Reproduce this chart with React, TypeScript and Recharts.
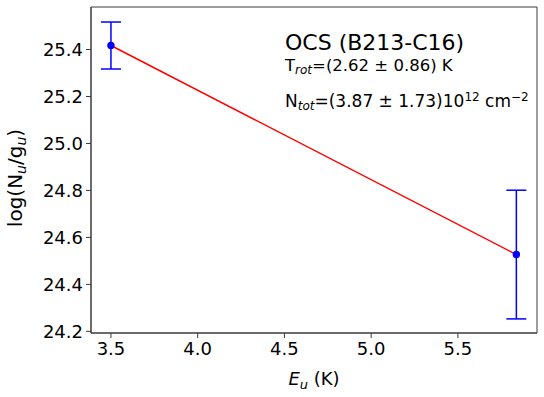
import { ComposedChart, Scatter, XAxis, YAxis, ErrorBar, ReferenceArea, Customized } from 'recharts';

// upper-level energies (K) and log column densities
const energies = [3.5, 5.837];
const logNg = [25.417, 24.527];
const logNgErr = [0.1, 0.274];

const xTicks = [3.5, 4.0, 4.5, 5.0, 5.5];
const yTicks = [24.2, 24.4, 24.6, 24.8, 25.0, 25.2, 25.4];

const xDomain = [3.385, 5.956];
const yDomain = [24.193, 25.581];

const FONT = '"DejaVu Sans", sans-serif';
const AXIS = '#3a3a3a';

const points = energies.map((e, i) => ({ x: e, y: logNg[i], err: logNgErr[i] }));
const fitLine = energies.map((e, i) => ({ x: e, y: logNg[i] }));

const dot = (props: any) => <circle cx={props.cx} cy={props.cy} r={3.7} fill="#0000ff" />;
const noDot = () => <g />;

function Annotations() {
  return (
    <g fontFamily={FONT} fill="#000">
      <text x={285} y={50} fontSize={22}>OCS (B213-C16)</text>
      <text x={285} y={71} fontSize={16.5}>
        T<tspan fontSize={12} fontStyle="italic" dy={3}>rot</tspan>
        <tspan dy={-3}>=(2.62 ± 0.86) K</tspan>
      </text>
      <text x={285} y={107} fontSize={17}>
        N<tspan fontSize={12} fontStyle="italic" dy={3}>tot</tspan>
        <tspan dy={-3}>=(3.87 ± 1.73)10</tspan>
        <tspan fontSize={12} dy={-6}>12</tspan>
        <tspan dy={6}> cm</tspan>
        <tspan fontSize={12} dy={-6}>−2</tspan>
      </text>
      <text x={314} y={385} fontSize={18} textAnchor="middle">
        <tspan fontStyle="italic">E</tspan>
        <tspan fontSize={13} fontStyle="italic" dy={4}>u</tspan>
        <tspan dy={-4}> (K)</tspan>
      </text>
      <text x={22} y={178} fontSize={20} textAnchor="middle" transform="rotate(-90 22 178)">
        log(N<tspan fontSize={14} fontStyle="italic" dy={4}>u</tspan>
        <tspan dy={-4}>/g</tspan>
        <tspan fontSize={14} fontStyle="italic" dy={4}>u</tspan>
        <tspan dy={-4}>)</tspan>
      </text>
    </g>
  );
}

export default function App() {
  return (
    <div style={{ position: 'absolute', left: 0, top: 0, width: 544, height: 397, background: '#fff' }}>
      <ComposedChart width={544} height={397} margin={{ top: 7, right: 7, bottom: 0, left: 0 }}>
        <XAxis
          xAxisId="b"
          type="number"
          dataKey="x"
          domain={xDomain}
          ticks={xTicks}
          tickFormatter={(v: number) => v.toFixed(1)}
          height={64}
          tickSize={5}
          tickMargin={4}
          allowDataOverflow
          stroke={AXIS}
          tick={{ fill: '#000', fontSize: 18, fontFamily: FONT }}
        />
        <YAxis
          yAxisId="l"
          type="number"
          dataKey="y"
          domain={yDomain}
          ticks={yTicks}
          tickFormatter={(v: number) => v.toFixed(1)}
          width={91}
          tickSize={5}
          tickMargin={3}
          allowDataOverflow
          stroke={AXIS}
          tick={{ fill: '#000', fontSize: 18, fontFamily: FONT }}
        />
        <ReferenceArea
          xAxisId="b"
          yAxisId="l"
          x1={xDomain[0]}
          x2={xDomain[1]}
          y1={yDomain[0]}
          y2={yDomain[1]}
          fill="none"
          stroke={AXIS}
          strokeWidth={1}
        />
        <Scatter
          xAxisId="b"
          yAxisId="l"
          data={fitLine}
          line={{ stroke: '#ff0000', strokeWidth: 1.5 }}
          shape={noDot}
          isAnimationActive={false}
        />
        <Scatter xAxisId="b" yAxisId="l" data={points} shape={dot} isAnimationActive={false}>
          <ErrorBar dataKey="err" direction="y" width={10} stroke="#0000ff" strokeWidth={1.5} isAnimationActive={false} />
        </Scatter>
        <Customized component={<Annotations />} />
      </ComposedChart>
    </div>
  );
}
